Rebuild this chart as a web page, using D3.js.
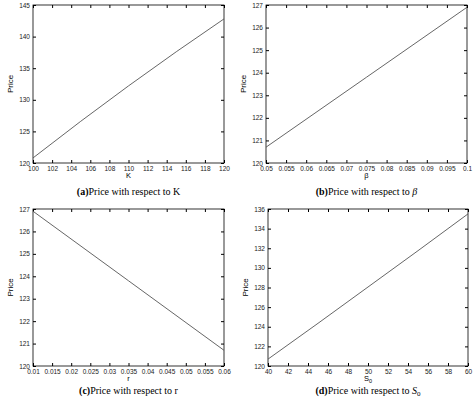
<!DOCTYPE html>
<html><head><meta charset="utf-8">
<script src="https://cdn.jsdelivr.net/npm/d3@7"></script>
<style>body{margin:0;background:#fff}svg{font-family:"Liberation Sans",Arial,sans-serif}</style>
</head><body><svg id="c" width="474" height="404"></svg>
<script>
// panel data
var kX = [100, 105, 110, 115, 120]
var kY = [120.8, 126.6, 132.2, 137.6, 142.8]
var betaX = [0.05, 0.075, 0.1]
var betaY = [120.7, 123.8, 126.9]
var rX = [0.01, 0.035, 0.06]
var rY = [126.9, 123.8, 120.7]
var sX = [40, 45, 50, 55, 60]
var sY = [120.7, 124.35, 128.05, 131.75, 135.5]

var panels = [
  {x: kX, y: kY, box: [33, 5, 224, 163], xd: [100, 120], yd: [120, 145], xt: d3.range(100, 121, 2), yt: d3.range(120, 146, 5), xl: "K", cap: ["(a)", "Price with respect to K"], cy: 195},
  {x: betaX, y: betaY, box: [266, 5, 467, 163], xd: [0.05, 0.1], yd: [120, 127], xt: d3.range(0, 11).map(i => 0.05 + i * 0.005), yt: d3.range(120, 128), xl: "β", cap: ["(b)", "Price with respect to β"], cy: 195, xf: d3.format("~g")},
  {x: rX, y: rY, box: [33, 209, 224, 366], xd: [0.01, 0.06], yd: [120, 127], xt: d3.range(0, 11).map(i => 0.01 + i * 0.005), yt: d3.range(120, 128), xl: "r", cap: ["(c)", "Price with respect to r"], cy: 394, xf: d3.format("~g")},
  {x: sX, y: sY, box: [268, 209, 468, 366], xd: [40, 60], yd: [120, 136], xt: d3.range(40, 61, 2), yt: d3.range(120, 137, 2), xl: "S0", cap: ["(d)", "Price with respect to S0"], cy: 394}
]

var svg = d3.select("#c")

panels.forEach(p => {
  var [x0, y0, x1, y1] = p.box
  var xs = d3.scaleLinear().domain(p.xd).range([x0, x1])
  var ys = d3.scaleLinear().domain(p.yd).range([y1, y0])
  var g = svg.append("g")
  var fmt = p.xf || d3.format("d")

  var styleAxis = a => {
    a.selectAll("path").remove()
    a.selectAll("line").attr("stroke", "#000")
    a.selectAll("text").attr("font-size", 6.5).attr("fill", "#222")
  }
  g.append("g").attr("transform", `translate(0,${y1})`)
    .call(d3.axisBottom(xs).tickValues(p.xt).tickSize(-3).tickPadding(3).tickFormat(fmt)).call(styleAxis)
  g.append("g").attr("transform", `translate(0,${y0})`)
    .call(d3.axisTop(xs).tickValues(p.xt).tickSize(-3).tickFormat("")).call(styleAxis)
  g.append("g").attr("transform", `translate(${x0},0)`)
    .call(d3.axisLeft(ys).tickValues(p.yt).tickSize(-3).tickPadding(3).tickFormat(d3.format("d"))).call(styleAxis)
  g.append("g").attr("transform", `translate(${x1},0)`)
    .call(d3.axisRight(ys).tickValues(p.yt).tickSize(-3).tickFormat("")).call(styleAxis)

  g.append("rect").attr("x", x0).attr("y", y0).attr("width", x1 - x0).attr("height", y1 - y0)
    .attr("fill", "none").attr("stroke", "#000").attr("stroke-width", 0.8)

  g.append("path").datum(p.x.map((v, i) => [v, p.y[i]]))
    .attr("d", d3.line().x(d => xs(d[0])).y(d => ys(d[1])))
    .attr("fill", "none").attr("stroke", "#555").attr("stroke-width", 0.9)

  var xlab = g.append("text").attr("x", (x0 + x1) / 2).attr("y", y1 + 15)
    .attr("text-anchor", "middle").attr("font-size", 7.5)
  if (p.xl === "S0") {
    xlab.text("S")
    xlab.append("tspan").attr("font-size", 5.5).attr("dy", 2).text("0")
  } else xlab.text(p.xl)

  g.append("text").attr("transform", `translate(${x0 - 20},${(y0 + y1) / 2}) rotate(-90)`)
    .attr("text-anchor", "middle").attr("font-size", 8).text("Price")

  var cap = g.append("text").attr("x", (x0 + x1) / 2).attr("y", p.cy)
    .attr("text-anchor", "middle").attr("font-family", "'Liberation Serif','DejaVu Serif',serif").attr("font-size", 10)
  cap.append("tspan").attr("font-weight", "bold").text(p.cap[0])
  if (p.xl === "S0") {
    cap.append("tspan").text("Price with respect to ")
    cap.append("tspan").attr("font-style", "italic").text("S")
    cap.append("tspan").attr("font-size", 7).attr("dy", 2).text("0")
  } else if (p.xl === "β") {
    cap.append("tspan").text("Price with respect to ")
    cap.append("tspan").attr("font-style", "italic").text("β")
  } else cap.append("tspan").text(p.cap[1])
})
</script></body></html>
